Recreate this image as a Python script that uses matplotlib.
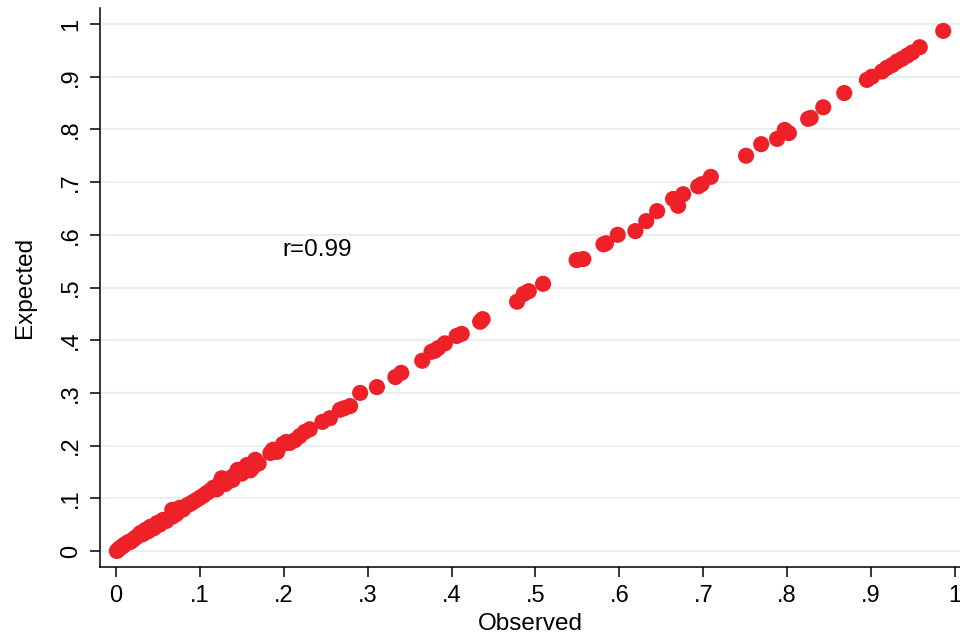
import numpy as np
import matplotlib.pyplot as plt

plt.rcParams['font.family'] = ['Liberation Sans', 'DejaVu Sans']

observed = [
    0.001, 0.003, 0.005, 0.006, 0.008, 0.010, 0.013, 0.015, 0.017, 0.020,
    0.022, 0.025, 0.027, 0.029, 0.032, 0.035, 0.038, 0.041, 0.045, 0.049,
    0.052, 0.056, 0.060, 0.067, 0.067, 0.072, 0.076, 0.080, 0.085, 0.089,
    0.092, 0.096, 0.100, 0.104, 0.108, 0.112, 0.116, 0.120, 0.124, 0.126,
    0.130, 0.134, 0.138, 0.139, 0.142, 0.145, 0.150, 0.156, 0.160, 0.163,
    0.166, 0.170, 0.184, 0.187, 0.192, 0.199, 0.203, 0.207, 0.213, 0.219,
    0.225, 0.231, 0.246, 0.255, 0.267, 0.272, 0.279, 0.291, 0.311, 0.333,
    0.340, 0.365, 0.376, 0.380, 0.384, 0.392, 0.406, 0.412, 0.434, 0.437,
    0.478, 0.486, 0.492, 0.509, 0.549, 0.557, 0.581, 0.584, 0.598, 0.619,
    0.632, 0.645, 0.664, 0.670, 0.676, 0.694, 0.698, 0.709, 0.751, 0.769,
    0.788, 0.797, 0.802, 0.825, 0.828, 0.843, 0.868, 0.895, 0.901, 0.913,
    0.919, 0.925, 0.931, 0.937, 0.943, 0.949, 0.958, 0.986,
]
expected = [
    0.000, 0.003, 0.006, 0.007, 0.009, 0.012, 0.015, 0.017, 0.017, 0.021,
    0.024, 0.027, 0.030, 0.034, 0.032, 0.040, 0.037, 0.046, 0.043, 0.053,
    0.050, 0.059, 0.057, 0.065, 0.078, 0.070, 0.082, 0.079, 0.087, 0.090,
    0.093, 0.097, 0.101, 0.105, 0.110, 0.114, 0.120, 0.117, 0.129, 0.138,
    0.127, 0.132, 0.140, 0.135, 0.145, 0.154, 0.147, 0.163, 0.153, 0.159,
    0.173, 0.166, 0.186, 0.192, 0.188, 0.203, 0.207, 0.205, 0.210, 0.218,
    0.226, 0.231, 0.245, 0.252, 0.268, 0.271, 0.275, 0.300, 0.311, 0.330,
    0.338, 0.361, 0.378, 0.380, 0.385, 0.394, 0.408, 0.412, 0.435, 0.440,
    0.473, 0.488, 0.493, 0.507, 0.552, 0.554, 0.582, 0.584, 0.600, 0.607,
    0.626, 0.645, 0.668, 0.655, 0.677, 0.692, 0.696, 0.710, 0.750, 0.772,
    0.782, 0.799, 0.793, 0.820, 0.822, 0.842, 0.869, 0.894, 0.900, 0.910,
    0.917, 0.922, 0.929, 0.934, 0.940, 0.946, 0.956, 0.987,
]
tick_vals = [0, 0.1, 0.2, 0.3, 0.4, 0.5, 0.6, 0.7, 0.8, 0.9, 1.0]
tick_labels = ['0', '.1', '.2', '.3', '.4', '.5', '.6', '.7', '.8', '.9', '1']
r_text = 'r=0.99'

fig = plt.figure(figsize=(9.6, 6.34), dpi=100)
ax = fig.add_axes([100 / 960, 67 / 634, 860 / 960, 559 / 634])

ax.scatter(observed, expected, s=135, color='#ee2028', edgecolors='none', zorder=3)

ax.set_xlim(-0.0191, 1.006)
ax.set_ylim(-0.0304, 1.0304)

ax.set_xticks(tick_vals)
ax.set_xticklabels(tick_labels)
ax.set_yticks(tick_vals)
ax.set_yticklabels(tick_labels, rotation=90, va='center')

ax.grid(True, axis='y', color='#e8f1f2', linewidth=1.6, zorder=0)
ax.set_axisbelow(True)

for side in ['top', 'right']:
    ax.spines[side].set_visible(False)
for side in ['left', 'bottom']:
    ax.spines[side].set_linewidth(1.1)

ax.tick_params(axis='both', direction='out', length=7, width=1.1,
               labelsize=17, pad=6, colors='black')

ax.set_xlabel('Observed', fontsize=17.5, labelpad=4)
ax.set_ylabel('Expected', fontsize=17.5, labelpad=17)

ax.text(0.198, 0.571, r_text, fontsize=17.5, va='center', ha='left')

fig.savefig('out.png', dpi=100)
